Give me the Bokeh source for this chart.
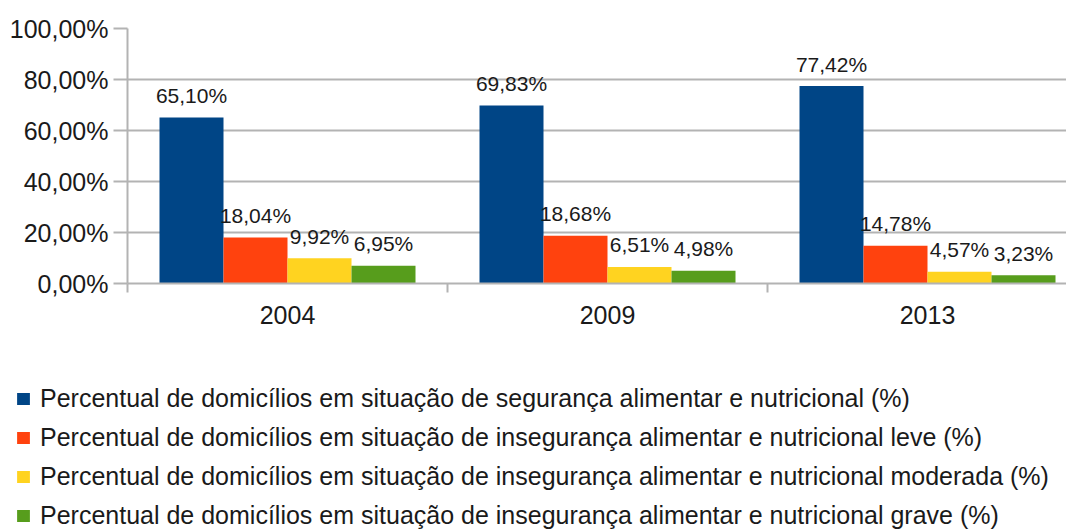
from bokeh.plotting import figure
from bokeh.models import Range1d, FixedTicker, Legend, LegendItem, ColumnDataSource
from bokeh.core.properties import value
from bokeh.embed import file_html
from bokeh.resources import INLINE

years = ["2004", "2009", "2013"]
series_names = [
    "Percentual de domicílios em situação de segurança alimentar e nutricional (%)",
    "Percentual de domicílios em situação de insegurança alimentar e nutricional leve (%)",
    "Percentual de domicílios em situação de insegurança alimentar e nutricional moderada (%)",
    "Percentual de domicílios em situação de insegurança alimentar e nutricional grave (%)",
]
seguranca = [65.10, 69.83, 77.42]
leve = [18.04, 18.68, 14.78]
moderada = [9.92, 6.51, 4.57]
grave = [6.95, 4.98, 3.23]
y_ticks = [0, 20, 40, 60, 80, 100]
y_tick_labels = ["0,00%", "20,00%", "40,00%", "60,00%", "80,00%", "100,00%"]

colors = ["#004586", "#ff420e", "#ffd320", "#579d1c"]
FONT = "Liberation Sans"
TEXT = "#1a1a1a"

all_series = [seguranca, leve, moderada, grave]
offsets = [-0.3, -0.1, 0.1, 0.3]
centers = [i + 0.5 for i in range(len(years))]

H1 = 340
p = figure(width=1066, height=H1, output_backend="svg", toolbar_location=None,
           x_range=Range1d(0, 939 / 320), y_range=Range1d(0, 100),
           min_border_left=127, min_border_right=0, min_border_top=28,
           min_border_bottom=H1 - 28 - 255)
p.outline_line_color = None
p.background_fill_color = "white"

for vals, off, col in zip(all_series, offsets, colors):
    xs = [c + off for c in centers]
    src = ColumnDataSource(dict(x=xs, top=vals,
                                lab=[("%.2f" % v).replace(".", ",") + "%" for v in vals]))
    p.vbar(x="x", top="top", width=0.2, bottom=0, source=src,
           fill_color=col, line_color=None)
    p.text(x="x", y="top", text="lab", source=src, text_align="center",
           text_baseline="alphabetic", y_offset=-22, text_color=TEXT,
           text_font=value(FONT), text_font_size="21px")

# y axis
p.yaxis.ticker = FixedTicker(ticks=y_ticks)
p.yaxis.major_label_overrides = {t: l for t, l in zip(y_ticks, y_tick_labels)}
p.yaxis.major_label_text_font = FONT
p.yaxis.major_label_text_font_size = "25px"
p.yaxis.major_label_text_color = TEXT
p.yaxis.major_tick_out = 14
p.yaxis.major_tick_in = 0
p.yaxis.minor_tick_out = 0
p.yaxis.minor_tick_in = 0
p.yaxis.major_tick_line_color = "#b3b3b3"
p.yaxis.major_tick_line_width = 2
p.yaxis.axis_line_color = "#b3b3b3"
p.yaxis.axis_line_width = 2
p.yaxis.major_label_standoff = 5

# x axis
p.xaxis.ticker = FixedTicker(ticks=centers, minor_ticks=[0, 1, 2, 3])
p.xaxis.major_label_overrides = {c: y for c, y in zip(centers, years)}
p.xaxis.major_label_text_font = FONT
p.xaxis.major_label_text_font_size = "25px"
p.xaxis.major_label_text_color = TEXT
p.xaxis.major_tick_out = 0
p.xaxis.major_tick_in = 0
p.xaxis.minor_tick_out = 9
p.xaxis.minor_tick_in = 0
p.xaxis.minor_tick_line_color = "#b3b3b3"
p.xaxis.minor_tick_line_width = 2
p.xaxis.axis_line_color = "#b3b3b3"
p.xaxis.axis_line_width = 2
p.xaxis.major_label_standoff = 13

p.xgrid.grid_line_color = None
p.ygrid.ticker = FixedTicker(ticks=y_ticks)
p.ygrid.grid_line_color = "#b3b3b3"
p.ygrid.grid_line_width = 2

# legend figure
H2 = 190
q = figure(width=1066, height=H2, output_backend="svg", toolbar_location=None,
           x_range=Range1d(0, 1), y_range=Range1d(0, 1),
           x_axis_location=None, y_axis_location=None,
           min_border_left=0, min_border_right=0, min_border_top=0, min_border_bottom=0)
q.grid.visible = False
q.outline_line_color = None
leg_renderers = []
for col in colors:
    leg_renderers.append(q.vbar(x=[5], top=[5], width=0.1, fill_color=col, line_color=None))

legend = Legend(items=[LegendItem(label=n, renderers=[r]) for n, r in zip(series_names, leg_renderers)],
                location=(15, 0))
legend.label_text_font = FONT
legend.label_text_font_size = "25px"
legend.label_text_color = TEXT
legend.glyph_width = 16
legend.glyph_height = 15
legend.label_height = 28
legend.spacing = 10
legend.padding = 0
legend.margin = 0
legend.label_standoff = 9
legend.border_line_color = None
legend.background_fill_alpha = 0
q.add_layout(legend, "center")

open("out.html", "w").write(file_html([p, q], INLINE))
